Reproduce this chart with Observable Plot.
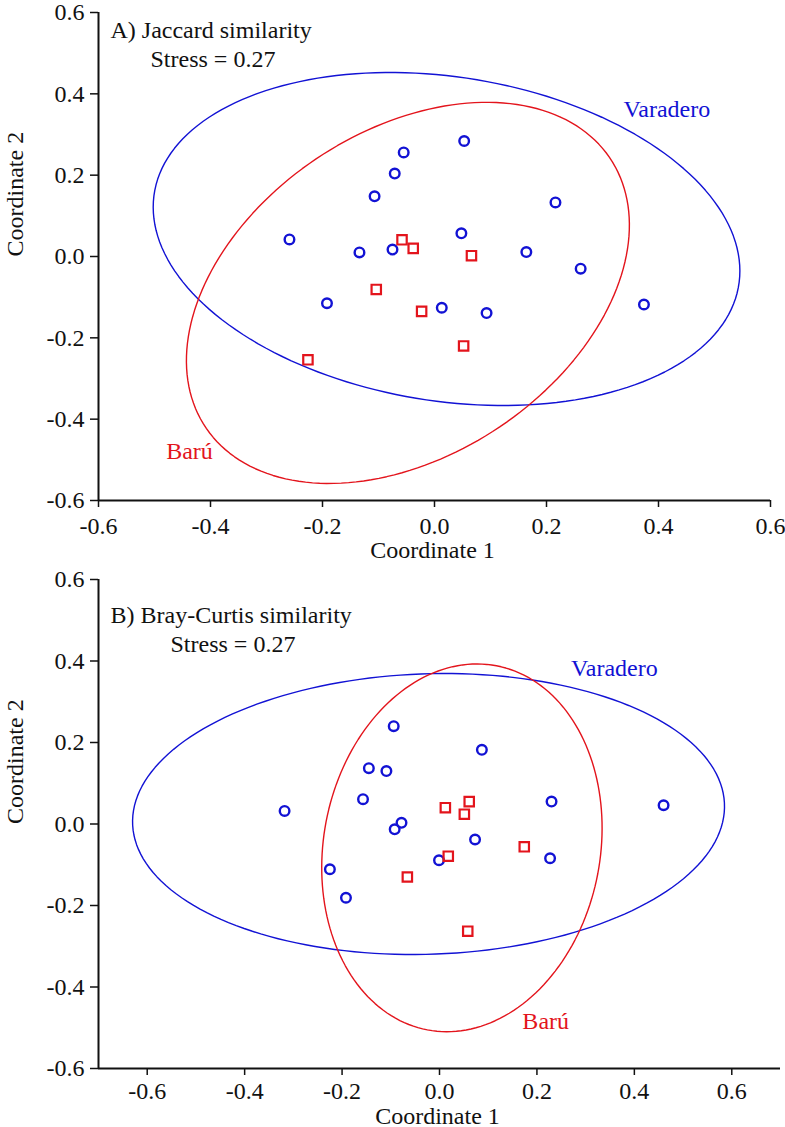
<!DOCTYPE html>
<html>
<head>
<meta charset="utf-8">
<script src="https://cdn.jsdelivr.net/npm/d3@7"></script>
<script src="https://cdn.jsdelivr.net/npm/@observablehq/plot@0.6"></script>
<style>
  body { margin: 0; background: #fff; }
  #chart svg { display: block; font-family: "Liberation Serif", "Times New Roman", serif !important; }
  #chart svg text { font-family: "Liberation Serif", "Times New Roman", serif !important; }
</style>
</head>
<body>
<div id="chart"></div>
<script>
// ---------- Data ----------
const tickValues = [-0.6, -0.4, -0.2, 0.0, 0.2, 0.4, 0.6];
const groups = ["Varadero", "Barú"];

// Panel A – Jaccard similarity
const titleA = "A) Jaccard similarity";
const stressA = "Stress = 0.27";
const varaderoAx = [-0.259, -0.134, -0.075, -0.107, -0.071, -0.055, 0.053, 0.216, 0.048, 0.164, 0.261, 0.374, 0.013, 0.093, -0.192];
const varaderoAy = [0.042, 0.010, 0.017, 0.148, 0.204, 0.256, 0.284, 0.133, 0.057, 0.011, -0.030, -0.118, -0.126, -0.139, -0.115];
const baruAx = [-0.058, -0.038, 0.066, -0.104, -0.226, -0.023, 0.052];
const baruAy = [0.041, 0.020, 0.002, -0.081, -0.254, -0.135, -0.220];
// ellipse: [centre x, centre y, semi-axis a, semi-axis b, rotation in degrees]
const ellipseVaraderoA = [0.0215, 0.043, 0.537, 0.392, -18.8];
const ellipseBaruA = [-0.0475, -0.0895, 0.511, 0.339, 57.8];
// group label anchors [x, y]
const labelVaraderoA = [0.415, 0.342];
const labelBaruA = [-0.4375, -0.497];

// Panel B – Bray-Curtis similarity
const titleB = "B) Bray-Curtis similarity";
const stressB = "Stress = 0.27";
const varaderoBx = [-0.318, -0.094, -0.145, -0.109, -0.157, -0.092, -0.078, 0.087, 0.230, 0.460, 0.073, -0.001, 0.227, -0.225, -0.192];
const varaderoBy = [0.032, 0.240, 0.137, 0.130, 0.061, -0.013, 0.003, 0.182, 0.055, 0.046, -0.038, -0.089, -0.084, -0.111, -0.181];
const baruBx = [0.012, 0.061, 0.051, 0.018, 0.174, -0.066, 0.058];
const baruBy = [0.040, 0.055, 0.024, -0.079, -0.056, -0.130, -0.263];
const ellipseVaraderoB = [-0.0225, 0.0245, 0.608, 0.344, 2.6];
const ellipseBaruB = [0.046, -0.0585, 0.453, 0.285, 83.5];
const labelVaraderoB = [0.359, 0.363];
const labelBaruB = [0.218, -0.503];

const xLabel = "Coordinate 1";
const yLabel = "Coordinate 2";

// ---------- Styling ----------
const BLUE = "#1212d4";
const RED = "#e3141c";
const FONT = "Liberation Serif, Times New Roman, serif";

function ellipsePath([cx, cy, a, b, deg]) {
  const th = deg * Math.PI / 180;
  const pts = [];
  for (let k = 0; k <= 360; k += 2) {
    const t = k * Math.PI / 180;
    pts.push({
      x: cx + a * Math.cos(t) * Math.cos(th) - b * Math.sin(t) * Math.sin(th),
      y: cy + a * Math.cos(t) * Math.sin(th) + b * Math.sin(t) * Math.cos(th)
    });
  }
  return pts;
}
const zipXY = (xs, ys) => xs.map((x, i) => ({x, y: ys[i]}));
const fmt = d => d.toFixed(1);

function panel(o) {
  const T = {fontFamily: FONT, fontSize: 24, fill: "#111"};
  return Plot.plot({
    width: 785,
    height: o.height,
    marginLeft: 98,
    marginRight: o.marginRight,
    marginTop: o.marginTop,
    marginBottom: o.marginBottom,
    style: {fontFamily: FONT, fontSize: "24px", color: "#111", background: "#fff", overflow: "visible"},
    x: {domain: o.xDomain},
    y: {domain: [-0.6, 0.6]},
    marks: [
      Plot.axisX({ticks: tickValues, tickFormat: fmt, tickSize: 7, tickPadding: o.xTickPad, label: null, fontSize: 24, fontFamily: FONT, strokeWidth: 1.5}),
      Plot.axisY({ticks: tickValues, tickFormat: fmt, tickSize: 8, tickPadding: 6, label: null, fontSize: 24, fontFamily: FONT, strokeWidth: 1.5}),
      Plot.ruleY([-0.6], {stroke: "#111", strokeWidth: 2}),
      Plot.ruleX([o.xDomain[0]], {stroke: "#111", strokeWidth: 2}),
      Plot.line(ellipsePath(o.ellV), {x: "x", y: "y", stroke: BLUE, strokeWidth: 1.4}),
      Plot.line(ellipsePath(o.ellB), {x: "x", y: "y", stroke: RED, strokeWidth: 1.4}),
      Plot.dot(zipXY(o.vx, o.vy), {x: "x", y: "y", r: 4.8, symbol: "circle", stroke: BLUE, strokeWidth: 2.4}),
      Plot.dot(zipXY(o.bx, o.by), {x: "x", y: "y", r: 5.3, symbol: "square", stroke: RED, strokeWidth: 2.2}),
      Plot.text([groups[0]], {...T, x: o.labV[0], y: o.labV[1], text: d => d, fill: BLUE, lineAnchor: "bottom"}),
      Plot.text([groups[1]], {...T, x: o.labB[0], y: o.labB[1], text: d => d, fill: RED, lineAnchor: "bottom"}),
      Plot.text([o.title], {...T, frameAnchor: "top-left", dx: 12, dy: o.titleDy, textAnchor: "start", lineAnchor: "bottom"}),
      Plot.text([o.stress], {...T, frameAnchor: "top-left", dx: o.stressDx, dy: o.titleDy + 29, textAnchor: "start", lineAnchor: "bottom"}),
      Plot.text([xLabel], {...T, frameAnchor: "bottom", dx: -2, dy: o.xLabelDy, lineAnchor: "bottom"}),
      Plot.text([yLabel], {...T, frameAnchor: "left", dx: -83, rotate: -90})
    ]
  });
}

const chart = document.getElementById("chart");
chart.append(panel({
  height: 566, marginTop: 12, marginBottom: 66, marginRight: 15,
  xDomain: [-0.6, 0.6], xTickPad: 9,
  vx: varaderoAx, vy: varaderoAy, bx: baruAx, by: baruAy,
  ellV: ellipseVaraderoA, ellB: ellipseBaruA,
  labV: labelVaraderoA, labB: labelBaruA,
  title: titleA, stress: stressA, titleDy: 25, stressDx: 52, xLabelDy: 57
}));
chart.append(panel({
  height: 561, marginTop: 13, marginBottom: 59, marginRight: 5,
  xDomain: [-0.7, 0.7], xTickPad: 6,
  vx: varaderoBx, vy: varaderoBy, bx: baruBx, by: baruBy,
  ellV: ellipseVaraderoB, ellB: ellipseBaruB,
  labV: labelVaraderoB, labB: labelBaruB,
  title: titleB, stress: stressB, titleDy: 43, stressDx: 72, xLabelDy: 55
}));
</script>
</body>
</html>
